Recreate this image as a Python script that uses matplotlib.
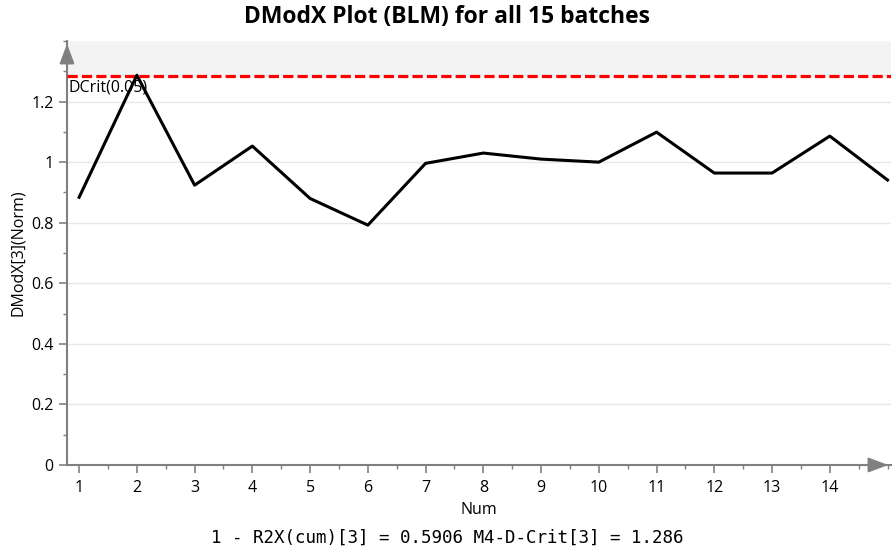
# DModX plot for the 15 batches, with the DCrit limit line
import numpy as np
import matplotlib.pyplot as plt
from matplotlib.ticker import MultipleLocator

num = [1, 2, 3, 4, 5, 6, 7, 8, 9, 10, 11, 12, 13, 14, 15]
dmodx = [0.884, 1.287, 0.924, 1.053, 0.880, 0.792, 0.996, 1.030, 1.010,
         1.000, 1.099, 0.964, 0.964, 1.086, 0.941]
dcrit = 1.286
xticks = list(range(1, 15))
yticks = [0, 0.2, 0.4, 0.6, 0.8, 1.0, 1.2]
ytick_labels = ['0', '0.2', '0.4', '0.6', '0.8', '1', '1.2']

plt.rcParams['font.family'] = ['Open Sans', 'DejaVu Sans']
eixo = '#808080'

fig = plt.figure(figsize=(8.95, 5.5), dpi=100)
ax = fig.add_axes([67 / 895, 85 / 550, (891 - 67) / 895, (465 - 41) / 550])

ax.set_xlim(0.79, 15.06)
ax.set_ylim(0, 1.40)

# zona acima do limite critico
ax.axhspan(dcrit, 1.40, color='#f3f3f3', zorder=0)
ax.axhline(dcrit, color='#ff0000', lw=2.3, ls=(0, (3.2, 1.3)), zorder=3)
ax.text(0.82, dcrit - 0.012, 'DCrit(0.05)', fontsize=11.5, va='top', ha='left', zorder=4)

ax.plot(num, dmodx, color='black', lw=2.2, zorder=4)

ax.set_xticks(xticks)
ax.set_yticks(yticks)
ax.set_yticklabels(ytick_labels)
ax.xaxis.set_minor_locator(MultipleLocator(0.5))
ax.yaxis.set_minor_locator(MultipleLocator(0.1))
ax.tick_params(axis='both', which='major', length=6, color=eixo, labelsize=11.5, width=1.2)
ax.tick_params(axis='both', which='minor', length=3, color=eixo, width=1)
ax.tick_params(axis='x', pad=5)

ax.grid(axis='y', which='major', color='#e8e8e8', lw=1)
ax.set_axisbelow(True)

for lado in ['top', 'right']:
    ax.spines[lado].set_visible(False)
for lado in ['left', 'bottom']:
    ax.spines[lado].set_color(eixo)
    ax.spines[lado].set_linewidth(1.5)

# setas nas pontas dos eixos
ax.annotate('', xy=(0, 1.0), xytext=(0, 0.94), xycoords='axes fraction',
            arrowprops=dict(arrowstyle='-|>,head_length=1.2,head_width=0.45', color=eixo, lw=1.5))
ax.annotate('', xy=(1.0, 0), xytext=(0.97, 0), xycoords='axes fraction',
            arrowprops=dict(arrowstyle='-|>,head_length=1.2,head_width=0.45', color=eixo, lw=1.5))

ax.set_xlabel('Num', fontsize=11.5, labelpad=4)
ax.set_ylabel('DModX[3](Norm)', fontsize=11.5, labelpad=4)

fig.suptitle('DModX Plot (BLM) for all 15 batches', fontsize=16.5, fontweight='bold', y=0.99)
fig.text(0.5, 1 - 538 / 550, '1 - R2X(cum)[3] = 0.5906 M4-D-Crit[3] = 1.286',
         ha='center', va='center', fontsize=12.6, family='DejaVu Sans Mono')

fig.savefig('out.png', dpi=100)
